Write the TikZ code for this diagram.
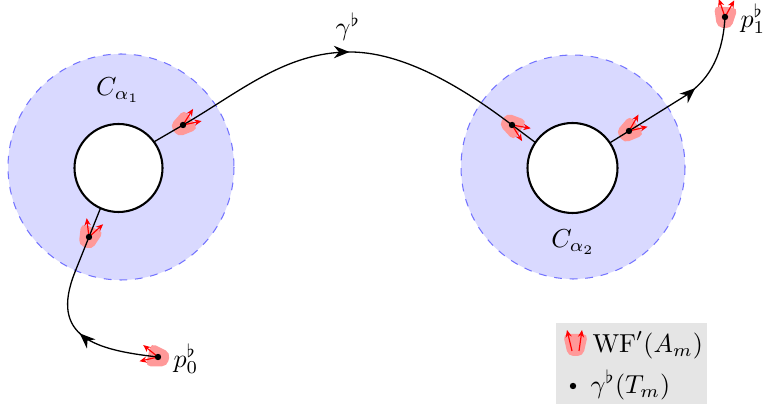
\documentclass[tikz,border=0pt]{standalone}
\usetikzlibrary{arrows.meta,decorations.markings}
\begin{document}
\begin{tikzpicture}[x=0.385pt,y=-0.385pt,
  px/.style={x=0.385pt,y=0.385pt},
  bigdisc/.style={fill=blue!15,draw=blue!55,dashed,line width=0.4pt},
  hole/.style={fill=white,draw=black,line width=0.8pt},
  curve/.style={draw=black,line width=0.5pt},
  mid/.style={postaction={decorate},decoration={markings,mark=at position #1 with {\arrow{Stealth[length=6pt,width=4.8pt]}}}},
  wfarrow/.style={red,line width=0.45pt,-{Stealth[length=2.8pt,width=2.4pt]}},
  dotmark/.style={fill=black},
  pics/wfbg/.style={code={\fill[px,red!40,rounded corners=2pt,rotate={#1-90}] (-12,10) -- (12,10) -- (7,-11) -- (-7,-11) -- cycle;}},
  pics/wfarr/.style 2 args={code={\draw[px,wfarrow] (0,0) -- (#1:19); \draw[px,wfarrow] (0,0) -- (#2:19);}}
]
\useasboundingbox (0,0) rectangle (765,409);
% coordinates
\coordinate (p0) at (158,357);
\coordinate (d1) at (89,237);
\coordinate (d2) at (183,125);
\coordinate (d3) at (512,125);
\coordinate (d4) at (629,131);
\coordinate (p1) at (725,17);
% discs
\draw[bigdisc] (121,167) circle[radius=113];
\draw[bigdisc] (573,167) circle[radius=112];
% wave front cones backgrounds
\pic at (p0) {wfbg=167};
\pic at (d1) {wfbg=70};
\pic at (d2) {wfbg=35};
\pic at (d3) {wfbg=-34};
\pic at (d4) {wfbg=36};
\pic at (p1) {wfbg=85};
% curves
\draw[curve,mid=0.37] (p0) .. controls (95,350) and (49,337) .. (75,272) -- (103,202);
\draw[curve,mid=0.52] (140,150) -- (d2) .. controls (240,92) and (285,52) .. (350,52) .. controls (410,52) and (475,97) .. (d3) -- (540,146);
\draw[curve,mid=0.6] (595,152) -- (d4) -- (685,96) .. controls (712,78) and (723,52) .. (p1);
% holes
\draw[hole] (118.5,168) circle[radius=44];
\draw[hole] (572.5,168) circle[radius=45];
% arrows of cones
\pic at (p0) {wfarr={141}{193}};
\pic at (d1) {wfarr={97}{42}};
\pic at (d2) {wfarr={58}{12}};
\pic at (d3) {wfarr={-10}{-58}};
\pic at (d4) {wfarr={60}{13}};
\pic at (p1) {wfarr={109}{61}};
% dots
\foreach \d in {p0,d1,d2,d3,d4,p1} \fill[dotmark] (\d) circle[radius=3.2];
% labels
\node (gl) at (348,27) {$\gamma^\flat$};
\node (ca1) at (118,90) {$C_{\alpha_1}$};
\node (ca2) at (573,242) {$C_{\alpha_2}$};
\node[anchor=west,inner sep=0pt] (p0l) at (173,359) {$p_0^\flat$};
\node[anchor=west,inner sep=0pt] (p1l) at (740,19) {$p_1^\flat$};
% legend
\fill[gray!20] (556,323) rectangle (707,404);
\fill[red!40,rounded corners=2pt] (563,334) -- (588,334) -- (583,356) -- (568,356) -- cycle;
\draw[wfarrow] (572,351) -- (567,330);
\draw[wfarrow] (579,351) -- (582,330);
\node[anchor=west,inner sep=0pt] (l1) at (592,345) {$\mathrm{WF}'(A_m)$};
\fill[dotmark] (573,386) circle[radius=3.2];
\node[anchor=west,inner sep=0pt] (l2) at (590,385) {$\gamma^\flat(T_m)$};
\end{tikzpicture}
\end{document}
